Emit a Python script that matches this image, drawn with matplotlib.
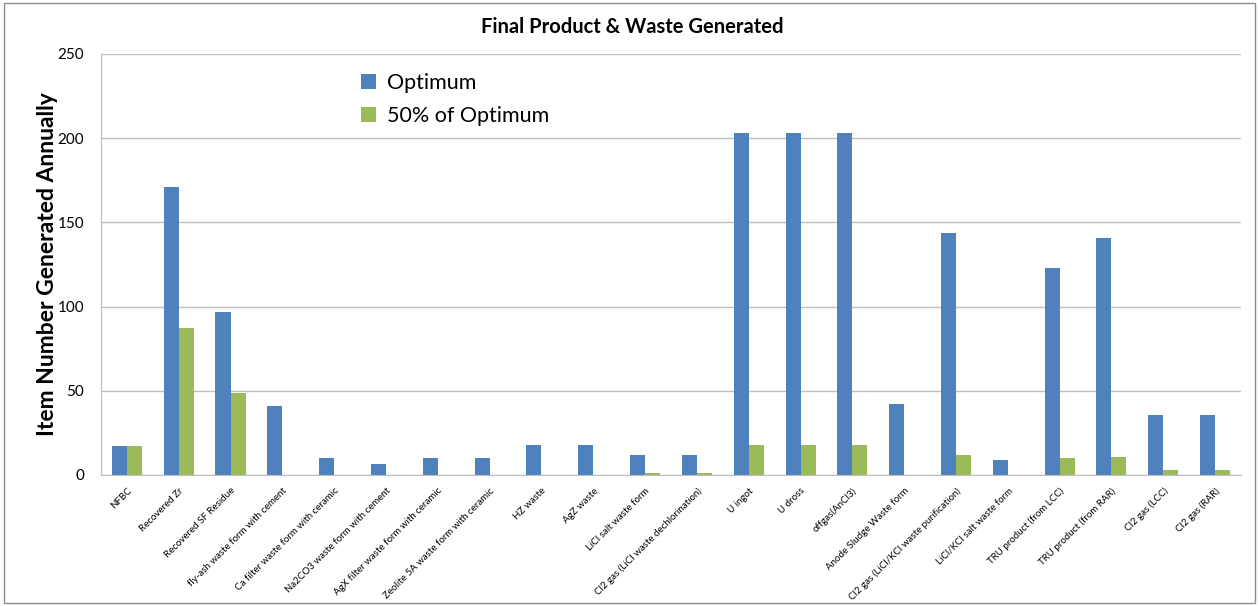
import matplotlib.pyplot as plt
from matplotlib.patches import Rectangle
import numpy as np

plt.rcParams['font.family'] = ['Lato', 'DejaVu Sans']

categories = ['NFBC', 'Recovered Zr', 'Recovered SF Residue', 'fly-ash waste form with cement',
              'Ca filter waste form with ceramic', 'Na2CO3 waste form with cement',
              'AgX filter waste form with ceramic', 'Zeolite 5A waste form with ceramic',
              'HZ waste', 'AgZ waste', 'LiCl salt waste form', 'Cl2 gas (LiCl waste dechlorination)',
              'U ingot', 'U dross', 'offgas(AnCl3)', 'Anode Sludge Waste form',
              'Cl2 gas (LiCl/KCl waste purification)', 'LiCl/KCl salt waste form',
              'TRU product (from LCC)', 'TRU product (from RAR)', 'Cl2 gas (LCC)', 'Cl2 gas (RAR)']
optimum = [17.2, 171, 97, 41, 10, 6.5, 10, 10, 17.8, 17.8, 11.9, 11.9,
           203.3, 203.3, 203.3, 42, 143.5, 8.7, 122.7, 140.7, 35.6, 35.6]
half_optimum = [17.2, 87.5, 48.7, 0, 0, 0, 0, 0, 0, 0, 1, 1,
                17.8, 17.8, 17.8, 0, 11.9, 0, 9.9, 10.7, 3, 3]

blue = '#4F81BD'
green = '#9BBB59'

fig = plt.figure(figsize=(12.59, 6.06), dpi=100)
ax = fig.add_axes([0.0802, 0.2162, 0.9055, 0.6947])

x = np.arange(len(categories))
w = 0.29
ax.bar(x - w / 2, optimum, w, color=blue, label='Optimum', zorder=2)
ax.bar(x + w / 2, half_optimum, w, color=green, label='50% of Optimum', zorder=2)

ax.set_xlim(-0.5, len(categories) - 0.5)
ax.set_ylim(0, 250)
ax.set_yticks(range(0, 251, 50))
ax.yaxis.grid(True, color='#BEBEBE', linewidth=1, zorder=0)
ax.set_axisbelow(True)
for s in ['top', 'right']:
    ax.spines[s].set_visible(False)
for s in ['left', 'bottom']:
    ax.spines[s].set_color('#BEBEBE')
ax.tick_params(axis='both', length=0)
ax.tick_params(axis='y', labelsize=11, pad=12)

ax.set_xticks(x)
ax.set_xticklabels(categories, rotation=45, ha='right', rotation_mode='anchor', fontsize=7)
ax.tick_params(axis='x', pad=8)

ax.set_ylabel('Item Number Generated Annually', fontsize=16.5, fontweight='bold', labelpad=0)
fig.text(0.502, 0.955, 'Final Product & Waste Generated', ha='center', va='center',
         fontsize=14.5, fontweight='bold')

ax.legend(loc='upper left', bbox_to_anchor=(0.211, 1.0), frameon=False, fontsize=15.5,
          handlelength=0.7, handleheight=0.7, handletextpad=0.5, labelspacing=0.6)

fig.patches.append(Rectangle((0.003, 0.005), 0.994, 0.99, transform=fig.transFigure,
                             fill=False, edgecolor='#8C8C8C', linewidth=1))

fig.savefig('out.png', dpi=100)
